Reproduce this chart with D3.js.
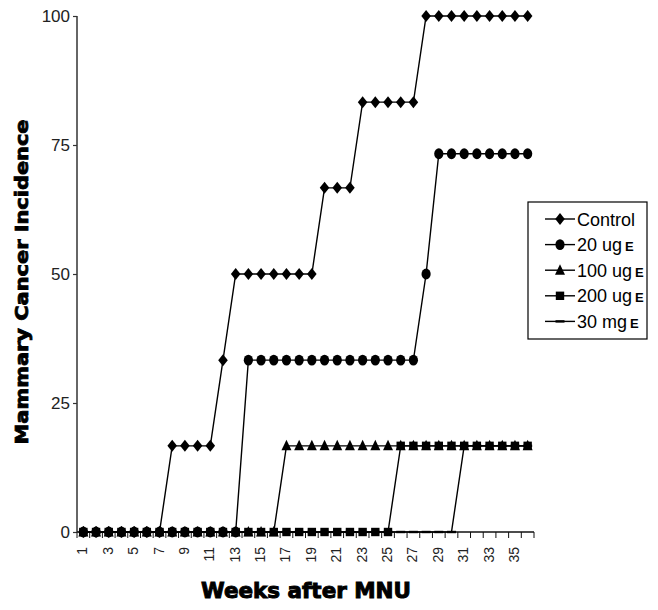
<!DOCTYPE html>
<html><head><meta charset="utf-8">
<script src="https://cdn.jsdelivr.net/npm/d3@7"></script>
<style>body{margin:0;background:#fff}svg{display:block}</style>
</head><body>
<svg id="chart" width="658" height="610"></svg>
<script>
const weeks = [1,2,3,4,5,6,7,8,9,10,11,12,13,14,15,16,17,18,19,20,21,22,23,24,25,26,27,28,29,30,31,32,33,34,35,36];
const xTickLabels = [1,3,5,7,9,11,13,15,17,19,21,23,25,27,29,31,33,35];
const yTicks = [0,25,50,75,100];
const control = [0,0,0,0,0,0,0,16.7,16.7,16.7,16.7,33.3,50,50,50,50,50,50,50,66.7,66.7,66.7,83.3,83.3,83.3,83.3,83.3,100,100,100,100,100,100,100,100,100];
const ug20 = [0,0,0,0,0,0,0,0,0,0,0,0,0,33.3,33.3,33.3,33.3,33.3,33.3,33.3,33.3,33.3,33.3,33.3,33.3,33.3,33.3,50,73.3,73.3,73.3,73.3,73.3,73.3,73.3,73.3];
const ug100 = [0,0,0,0,0,0,0,0,0,0,0,0,0,0,0,0,16.7,16.7,16.7,16.7,16.7,16.7,16.7,16.7,16.7,16.7,16.7,16.7,16.7,16.7,16.7,16.7,16.7,16.7,16.7,16.7];
const ug200 = [0,0,0,0,0,0,0,0,0,0,0,0,0,0,0,0,0,0,0,0,0,0,0,0,0,16.7,16.7,16.7,16.7,16.7,16.7,16.7,16.7,16.7,16.7,16.7];
const mg30 = [0,0,0,0,0,0,0,0,0,0,0,0,0,0,0,0,0,0,0,0,0,0,0,0,0,0,0,0,0,0,16.7,16.7,16.7,16.7,16.7,16.7];
const seriesNames = ["Control","20 ug","100 ug","200 ug","30 mg"];
const seriesSuffix = ["","E","E","E","E"];
const markerTypes = ["diamond","circle","triangle","square","dash"];

const series = [control, ug20, ug100, ug200, mg30].map((v,i)=>({name:seriesNames[i], suffix:seriesSuffix[i], marker:markerTypes[i], values:v}));

const svg = d3.select("#chart");
const x = d3.scaleBand().domain(weeks).range([77,534]).padding(0);
const y = d3.scaleLinear().domain([0,100]).range([532,16]);
const cx = w => x(w) + x.bandwidth()/2;

function marker(g, type){
  if(type==="diamond") g.append("path").attr("d","M0,-6L4.8,0L0,6L-4.8,0Z");
  else if(type==="circle") g.append("ellipse").attr("rx",4.6).attr("ry",5.4);
  else if(type==="triangle") g.append("path").attr("d","M0,-6L5,4.5L-5,4.5Z");
  else if(type==="square") g.append("rect").attr("x",-4.2).attr("y",-4.2).attr("width",8.4).attr("height",8.4);
  else if(type==="dash") g.append("rect").attr("x",-4.5).attr("y",-1.2).attr("width",9).attr("height",2.4);
  g.attr("fill","#000");
}

// Y axis
const yAxis = svg.append("g").attr("transform","translate(77,0)")
  .call(d3.axisLeft(y).tickValues(yTicks).tickSize(4).tickPadding(3));
yAxis.select(".domain").attr("stroke","#333").attr("stroke-width",1.5).attr("d","M0,16V532");
yAxis.selectAll(".tick line").attr("stroke","#333").attr("stroke-width",1.2);
yAxis.selectAll(".tick text").attr("font-family","Liberation Sans, Arial, sans-serif").attr("font-size",17).attr("fill","#222");

// X axis
const xg = svg.append("g");
xg.append("line").attr("x1",77).attr("x2",534).attr("y1",532).attr("y2",532).attr("stroke","#111").attr("stroke-width",1.5);
const boundaries = weeks.map(w=>x(w)).concat([x(weeks[weeks.length-1])+x.bandwidth()]);
xg.selectAll("line.tk").data(boundaries).join("line").attr("class","tk")
  .attr("x1",d=>d).attr("x2",d=>d).attr("y1",532).attr("y2",538).attr("stroke","#111").attr("stroke-width",1);
xg.selectAll("text.tl").data(xTickLabels).join("text").attr("class","tl")
  .attr("transform",d=>`translate(${cx(d)+4},547) rotate(-90)`)
  .attr("text-anchor","end")
  .attr("font-family","Liberation Sans, Arial, sans-serif").attr("font-size",14).attr("fill","#222")
  .text(d=>d);

// Titles
svg.append("text").attr("x",306).attr("y",598).attr("text-anchor","middle")
  .attr("font-family","DejaVu Sans, sans-serif").attr("font-weight","bold").attr("font-size",22)
  .attr("stroke","#000").attr("stroke-width",1).attr("textLength",210).attr("lengthAdjust","spacingAndGlyphs")
  .text("Weeks after MNU");
svg.append("text").attr("transform","translate(28,282) rotate(-90)").attr("text-anchor","middle")
  .attr("font-family","DejaVu Sans, sans-serif").attr("font-weight","bold").attr("font-size",17)
  .attr("stroke","#000").attr("stroke-width",0.8).attr("textLength",325).attr("lengthAdjust","spacingAndGlyphs")
  .text("Mammary Cancer Incidence");

// Series
const line = d3.line().x((d,i)=>cx(weeks[i])).y(d=>y(d));
series.forEach(s=>{
  const g = svg.append("g");
  g.append("path").attr("d",line(s.values)).attr("fill","none").attr("stroke","#000").attr("stroke-width",1.4);
  g.selectAll("g").data(s.values).join("g")
    .attr("transform",(d,i)=>`translate(${cx(weeks[i])},${y(d)})`)
    .each(function(){ marker(d3.select(this), s.marker); });
});

// Legend
const lg = svg.append("g").attr("transform","translate(528,202)");
lg.append("rect").attr("width",119).attr("height",137).attr("fill","#fff").attr("stroke","#000").attr("stroke-width",1.2);
series.forEach((s,i)=>{
  const yy = 17 + i*25.6;
  lg.append("line").attr("x1",17).attr("x2",47).attr("y1",yy).attr("y2",yy).attr("stroke","#000").attr("stroke-width",1.4);
  const m = lg.append("g").attr("transform",`translate(32,${yy})`);
  marker(m, s.marker);
  const t = lg.append("text").attr("x",49).attr("y",yy+6.5).attr("font-family","Liberation Sans, Arial, sans-serif").attr("font-size",18).attr("fill","#000");
  t.append("tspan").text(s.name);
  if(s.suffix) t.append("tspan").attr("font-size",13).attr("font-weight","bold").attr("dx",3).text(s.suffix);
});
</script>
</body></html>
